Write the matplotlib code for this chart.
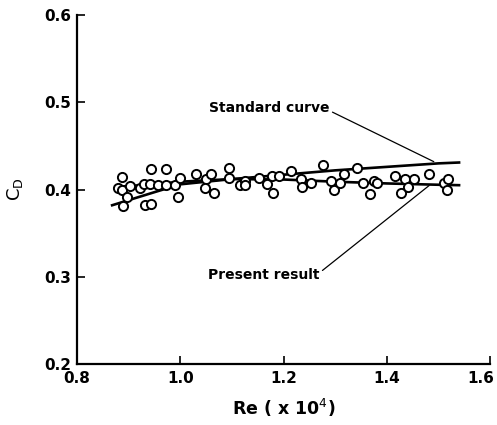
import matplotlib
matplotlib.use("Agg")
import matplotlib.pyplot as plt
from matplotlib.transforms import ScaledTranslation

# measured points (Re in units of 10^4, drag coefficient)
re_pts = [0.887, 0.879, 0.887, 0.896, 0.889, 0.902, 0.921, 0.929, 0.942, 0.943,
          0.973, 0.932, 0.944, 0.956, 0.973, 0.989, 0.999, 0.995, 1.031, 1.049,
          1.059, 1.047, 1.065, 1.095, 1.094, 1.115, 1.126, 1.126, 1.153, 1.167,
          1.178, 1.180, 1.191, 1.215, 1.234, 1.236, 1.253, 1.277, 1.291, 1.298,
          1.309, 1.317, 1.342, 1.353, 1.367, 1.375, 1.382, 1.416, 1.435, 1.452,
          1.427, 1.441, 1.482, 1.510, 1.519, 1.517]
cd_pts = [0.414, 0.402, 0.400, 0.391, 0.381, 0.404, 0.402, 0.406, 0.406, 0.423,
          0.424, 0.382, 0.383, 0.405, 0.405, 0.405, 0.413, 0.392, 0.418, 0.412,
          0.418, 0.402, 0.396, 0.425, 0.413, 0.405, 0.410, 0.405, 0.413, 0.406,
          0.415, 0.396, 0.416, 0.421, 0.412, 0.403, 0.408, 0.428, 0.410, 0.400,
          0.408, 0.418, 0.425, 0.408, 0.395, 0.410, 0.407, 0.415, 0.412, 0.412,
          0.396, 0.403, 0.418, 0.408, 0.412, 0.400]

# standard curve
std_re = [0.868, 0.95, 1.00, 1.10, 1.20, 1.30, 1.40, 1.50, 1.54]
std_cd = [0.382, 0.397, 0.406, 0.412, 0.417, 0.422, 0.426, 0.430, 0.431]

# present result (fitted curve)
pres_re = [0.874, 0.95, 1.00, 1.10, 1.20, 1.30, 1.40, 1.50, 1.54]
pres_cd = [0.403, 0.406, 0.409, 0.412, 0.4115, 0.409, 0.407, 0.4055, 0.405]

x_ticks = [0.8, 1.0, 1.2, 1.4, 1.6]
x_tick_labels = ["0.8", "1.0", "1.2", "1.4", "1.6"]
y_ticks = [0.2, 0.3, 0.4, 0.5, 0.6]
y_tick_labels = ["0.2", "0.3", "0.4", "0.5", "0.6"]

fig = plt.figure(figsize=(4.97, 4.25), dpi=100)
ax = fig.add_axes([0.155, 0.1435, 0.831, 0.821])

ax.plot(std_re, std_cd, color="black", linewidth=1.9, zorder=2)
ax.plot(pres_re, pres_cd, color="black", linewidth=1.9, zorder=2)
ax.plot(re_pts, cd_pts, linestyle="none", marker="o", markersize=6.6,
        markerfacecolor="white", markeredgecolor="black",
        markeredgewidth=1.4, zorder=3)

# labels with leader lines
ax.annotate("Standard curve", xy=(1.491, 0.432), xytext=(1.056, 0.4935),
            ha="left", va="center", fontsize=10, fontweight="bold",
            arrowprops=dict(arrowstyle="-", color="black", linewidth=0.9,
                            shrinkA=0, shrinkB=0,
                            relpos=(1.0, 0.3)))
ax.annotate("Present result", xy=(1.482, 0.4046), xytext=(1.054, 0.3015),
            ha="left", va="center", fontsize=10, fontweight="bold",
            arrowprops=dict(arrowstyle="-", color="black", linewidth=0.9,
                            shrinkA=0, shrinkB=0,
                            relpos=(1.0, 0.7)))

ax.set_xlim(0.8, 1.6)
ax.set_ylim(0.2, 0.6)
ax.set_xticks(x_ticks)
ax.set_xticklabels(x_tick_labels, fontsize=11, fontweight="bold")
ax.set_yticks(y_ticks)
ax.set_yticklabels(y_tick_labels, fontsize=11, fontweight="bold")
ax.tick_params(direction="in", length=6, width=1.2, pad=4)
ax.tick_params(axis="x", pad=5)

# keep the last x label inside the figure
last = ax.get_xticklabels()[-1]
last.set_horizontalalignment("right")
last.set_transform(last.get_transform() + ScaledTranslation(3 / 72, 0, fig.dpi_scale_trans))

for side in ("top", "right"):
    ax.spines[side].set_visible(False)
for side in ("left", "bottom"):
    ax.spines[side].set_linewidth(1.6)

ax.set_xlabel(r"Re ( x 10$^4$)", fontsize=12.5, fontweight="bold", labelpad=8)
ax.set_ylabel(r"C$_\mathrm{D}$", fontsize=13, labelpad=14)

fig.savefig("out.png", dpi=100, facecolor="white")
